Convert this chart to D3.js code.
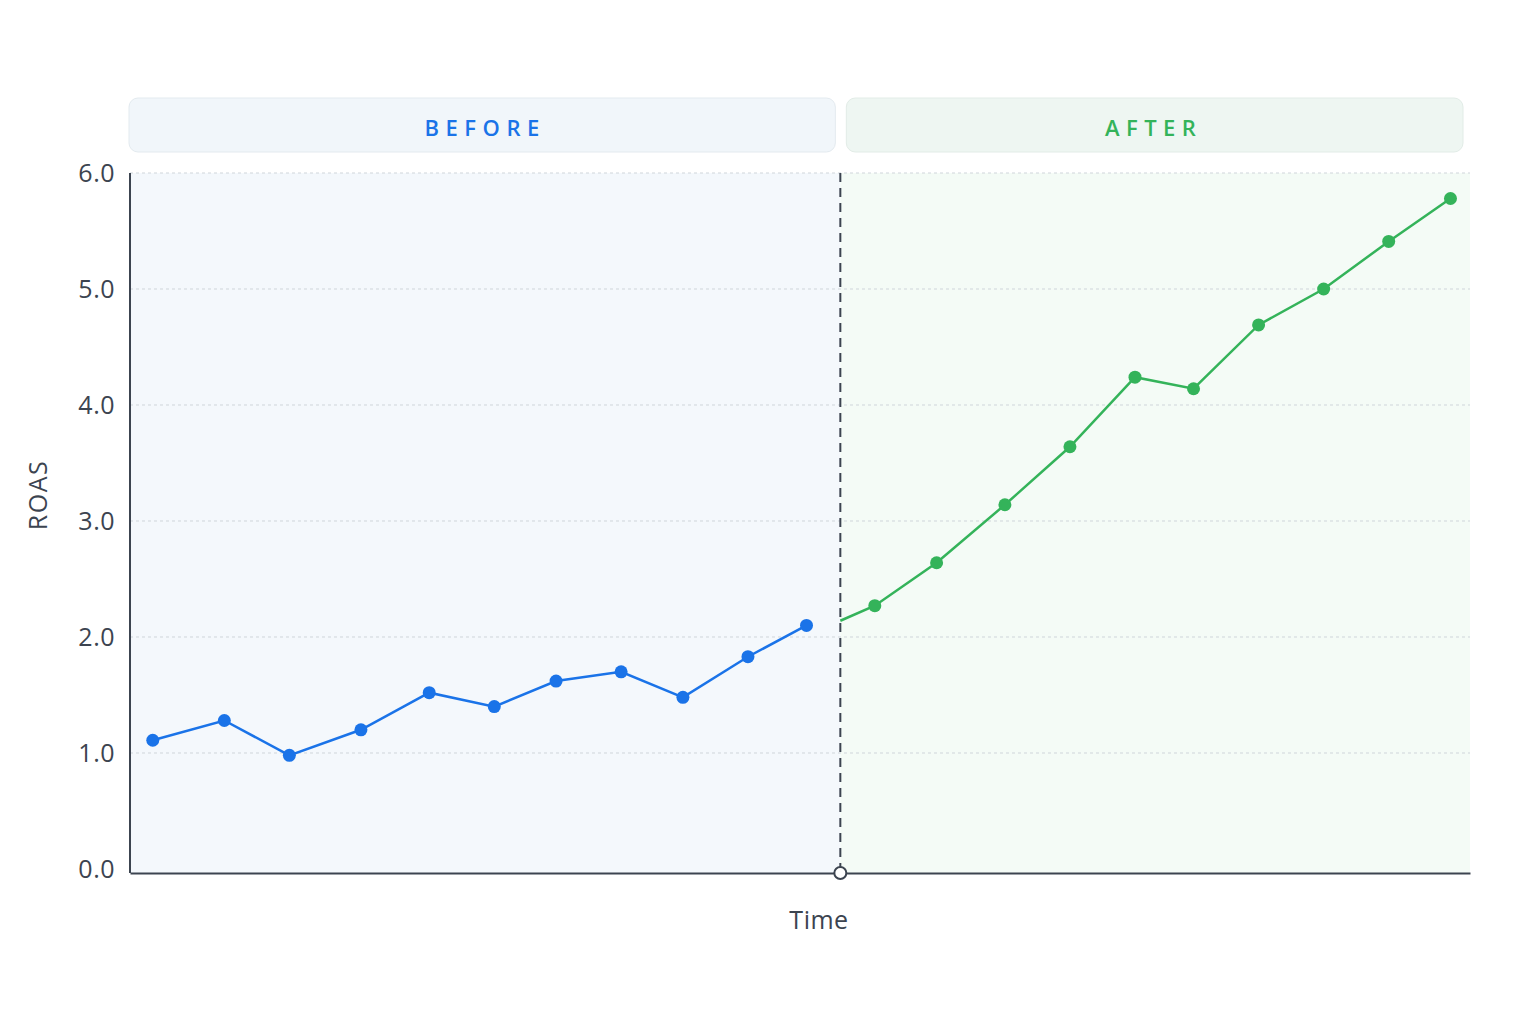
<!DOCTYPE html>
<html><head><meta charset="utf-8">
<script src="https://cdn.jsdelivr.net/npm/d3@7"></script>
<style>body{margin:0;background:#fff}svg{display:block}</style>
</head><body>
<svg id="chart" width="1536" height="1024"></svg>
<script>
// Data (time in weeks, ROAS)
const beforeTime = [0.35,1.45,2.45,3.55,4.6,5.6,6.55,7.55,8.5,9.5,10.4];
const beforeRoas = [1.11,1.28,0.98,1.20,1.52,1.40,1.62,1.70,1.48,1.83,2.10];
const afterTime  = [11.45,12.4,13.45,14.45,15.45,16.35,17.35,18.35,19.35,20.3];
const afterRoas  = [2.27,2.64,3.14,3.64,4.24,4.14,4.69,5.00,5.41,5.78];
const lineStartTime = 10.92, lineStartRoas = 2.14;
const changeTime = 10.92;
const yTicks = [0,1,2,3,4,5,6];
const tMax = 20.6;

const svg = d3.select("#chart");
const font = "'Open Sans', Roboto, sans-serif";
const x = d3.scaleLinear().domain([0,tMax]).range([130,1470]);
const y = d3.scaleLinear().domain([0,6]).range([869,173]);
const xc = x(changeTime);
const blue = "#1a73e8", green = "#34b35a";
const ink = "#3c4450";

// backgrounds
svg.append("rect").attr("x",x(0)).attr("y",y(6)).attr("width",xc-x(0)).attr("height",873-y(6)).attr("fill","#f4f8fc");
svg.append("rect").attr("x",xc).attr("y",y(6)).attr("width",x(tMax)-xc).attr("height",873-y(6)).attr("fill","#f4fbf6");

// headers
svg.append("rect").attr("x",129).attr("y",98).attr("width",xc-5-129).attr("height",54).attr("rx",9)
  .attr("fill","#f1f6fa").attr("stroke","#e3eaef").attr("stroke-width",1);
svg.append("rect").attr("x",xc+6).attr("y",98).attr("width",1463-xc-6).attr("height",54).attr("rx",9)
  .attr("fill","#eef6f2").attr("stroke","#e2ece7").attr("stroke-width",1);
svg.append("text").attr("x",(129+xc-5)/2+3).attr("y",127).attr("text-anchor","middle").attr("dominant-baseline","central")
  .attr("font-family",font).attr("font-size",22).attr("font-weight",600).attr("letter-spacing","6.5px")
  .attr("fill",blue).text("BEFORE");
svg.append("text").attr("x",(xc+6+1463)/2-1).attr("y",127).attr("text-anchor","middle").attr("dominant-baseline","central")
  .attr("font-family",font).attr("font-size",22).attr("font-weight",600).attr("letter-spacing","6.5px")
  .attr("fill",green).text("AFTER");

// grid
svg.append("g").selectAll("line").data(yTicks.filter(d=>d>0)).join("line")
  .attr("x1",x(0)).attr("x2",x(tMax)).attr("y1",d=>y(d)).attr("y2",d=>y(d))
  .attr("stroke","#cfd5da").attr("stroke-width",1).attr("stroke-dasharray","3,3");

// y axis
const yAxis = d3.axisLeft(y).tickValues(yTicks).tickFormat(d3.format(".1f")).tickSize(0).tickPadding(15);
const gy = svg.append("g").attr("transform",`translate(${x(0)},0)`).call(yAxis);
gy.select(".domain").remove();
gy.selectAll("text").attr("font-family",font).attr("font-size",25).attr("letter-spacing","0.5px").attr("fill",ink).attr("dy","0.32em");
svg.append("line").attr("x1",x(0)).attr("x2",x(0)).attr("y1",y(6)).attr("y2",873).attr("stroke",ink).attr("stroke-width",2);

// x axis
const xAxis = d3.axisBottom(x).tickValues([]).tickSize(0);
const gx = svg.append("g").attr("transform","translate(0,873)").call(xAxis);
gx.select(".domain").attr("stroke",ink).attr("stroke-width",2);

// divider
svg.append("line").attr("x1",xc).attr("x2",xc).attr("y1",y(6)).attr("y2",873)
  .attr("stroke",ink).attr("stroke-width",2).attr("stroke-dasharray","9,6");

// lines
const line = d3.line().x(d=>x(d[0])).y(d=>y(d[1]));
const bData = beforeTime.map((t,i)=>[t,beforeRoas[i]]);
const aData = [[lineStartTime,lineStartRoas]].concat(afterTime.map((t,i)=>[t,afterRoas[i]]));
svg.append("path").datum(bData).attr("d",line).attr("fill","none").attr("stroke",blue).attr("stroke-width",2.5);
svg.append("path").datum(aData).attr("d",line).attr("fill","none").attr("stroke",green).attr("stroke-width",2.5);
svg.append("g").selectAll("circle").data(bData).join("circle")
  .attr("cx",d=>x(d[0])).attr("cy",d=>y(d[1])).attr("r",6.5).attr("fill",blue);
svg.append("g").selectAll("circle").data(aData.slice(1)).join("circle")
  .attr("cx",d=>x(d[0])).attr("cy",d=>y(d[1])).attr("r",6.5).attr("fill",green);

// marker at change
svg.append("circle").attr("cx",xc).attr("cy",873).attr("r",6).attr("fill","#fff").attr("stroke",ink).attr("stroke-width",2);

// axis titles
svg.append("text").attr("x",819).attr("y",919).attr("text-anchor","middle").attr("dominant-baseline","central")
  .attr("font-family",font).attr("font-size",25).attr("letter-spacing","0.5px").attr("fill",ink).text("Time");
svg.append("text").attr("transform","translate(37,495) rotate(-90)").attr("text-anchor","middle").attr("dominant-baseline","central")
  .attr("font-family",font).attr("font-size",25).attr("letter-spacing","1.5px").attr("fill",ink).text("ROAS");
</script>
</body></html>
